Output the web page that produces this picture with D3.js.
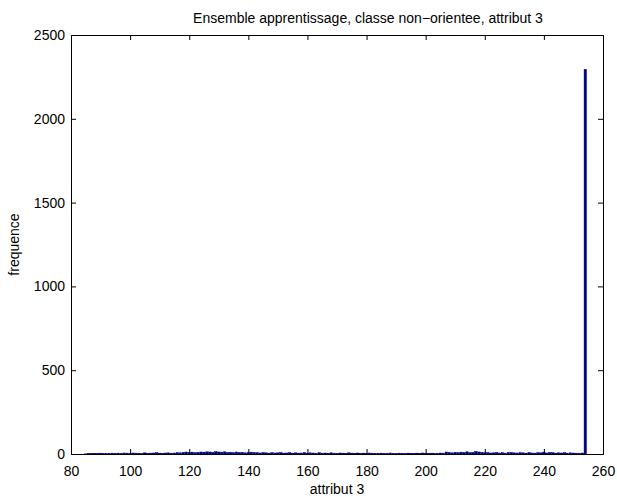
<!DOCTYPE html>
<html>
<head>
<meta charset="utf-8">
<script src="https://cdn.jsdelivr.net/npm/d3@7"></script>
<style>
  html, body { margin: 0; padding: 0; background: #fff; }
  svg { display: block; }
  text { font-family: "Liberation Sans", Arial, Helvetica, sans-serif; fill: #000; }
</style>
</head>
<body>
<svg id="chart" width="617" height="497"></svg>
<script>
// ---- data ----
const title = "Ensemble apprentissage, classe non\u2212orientee, attribut 3";
const xLabel = "attribut 3";
const yLabel = "frequence";
const xTicks = [80, 100, 120, 140, 160, 180, 200, 220, 240, 260];
const yTicks = [0, 500, 1000, 1500, 2000, 2500];
const firstBin = 85;
const frequencies = [
  1, 2, 3, 4, 3, 5, 4, 3, 4, 5,      // 85-94
  4, 5, 3, 6, 5, 4, 6, 5, 4, 3,      // 95-104
  7, 4, 5, 6, 8, 5, 4, 6, 7, 5,      // 105-114
  6, 8, 7, 10, 12, 9, 11, 8, 10, 12, // 115-124
  11, 13, 12, 10, 14, 12, 11, 13, 9, 10, // 125-134
  8, 12, 9, 10, 7, 8, 11, 9, 8, 6,   // 135-144
  9, 7, 5, 8, 6, 7, 9, 5, 6, 8,      // 145-154
  4, 7, 5, 6, 9, 5, 7, 6, 4, 8,      // 155-164
  5, 6, 4, 7, 5, 3, 6, 5, 4, 7,      // 165-174
  5, 4, 6, 3, 5, 4, 6, 5, 3, 4,      // 175-184
  5, 3, 4, 6, 4, 3, 5, 4, 3, 5,      // 185-194
  4, 3, 5, 4, 6, 3, 4, 5, 3, 4,      // 195-204
  6, 5, 12, 9, 7, 10, 8, 11, 9, 13,  // 205-214
  8, 10, 16, 12, 9, 7, 8, 6, 7, 9,   // 215-224
  6, 8, 5, 9, 10, 7, 6, 8, 7, 5,     // 225-234
  9, 6, 5, 8, 7, 11, 6, 9, 8, 5,     // 235-244
  7, 6, 8, 5, 7, 6, 5, 4, 6,         // 245-253
  2295                               // 254
];
const bins = frequencies.map((f, i) => ({ x: firstBin + i, y: f }));

// ---- layout ----
const svg = d3.select("#chart");
const mLeft = 71, mRight = 603, mTop = 35, mBottom = 454;
const x = d3.scaleLinear().domain([80, 260]).range([mLeft, mRight]);
const y = d3.scaleLinear().domain([0, 2500]).range([mBottom, mTop]);
const barColor = "#00007f";
const tickLen = 5;

svg.append("rect").attr("x", 0).attr("y", 0).attr("width", 617).attr("height", 497).attr("fill", "#fff");

// bars
const bw = (x(1) - x(0)) * 0.8;
svg.append("g").selectAll("rect").data(bins).join("rect")
  .attr("x", d => x(d.x) - bw / 2)
  .attr("width", bw)
  .attr("y", d => y(d.y))
  .attr("height", d => Math.max(0, y(0) - y(d.y)))
  .attr("fill", barColor)
  .attr("stroke", barColor)
  .attr("stroke-width", 0.5);

// axes (MATLAB-like boxed, inward ticks)
const font = "14px";
const xb = svg.append("g").attr("transform", `translate(0,${mBottom})`)
  .call(d3.axisBottom(x).tickValues(xTicks).tickSize(-tickLen).tickPadding(12).tickFormat(d3.format("d")));
const xt = svg.append("g").attr("transform", `translate(0,${mTop})`)
  .call(d3.axisTop(x).tickValues(xTicks).tickSize(-tickLen).tickFormat(""));
const yl = svg.append("g").attr("transform", `translate(${mLeft},0)`)
  .call(d3.axisLeft(y).tickValues(yTicks).tickSize(-tickLen).tickPadding(6).tickFormat(d3.format("d")));
const yr = svg.append("g").attr("transform", `translate(${mRight},0)`)
  .call(d3.axisRight(y).tickValues(yTicks).tickSize(-tickLen).tickFormat(""));
[xb, xt, yl, yr].forEach(g => {
  g.selectAll(".domain").attr("stroke", "#000").attr("stroke-width", 1);
  g.selectAll(".tick line").attr("stroke", "#000");
  g.selectAll("text").style("font-size", font).style("font-family", '"Liberation Sans", Arial, sans-serif').attr("fill", "#000");
});
xb.selectAll(".tick").filter(d => d === 80 || d === 260).select("line").remove();
xt.selectAll(".tick").filter(d => d === 80 || d === 260).select("line").remove();
yl.selectAll(".tick").filter(d => d === 0 || d === 2500).select("line").remove();
yr.selectAll(".tick").filter(d => d === 0 || d === 2500).select("line").remove();

// labels
svg.append("text").attr("x", 368).attr("y", 23)
  .attr("text-anchor", "middle").style("font-size", font).text(title);
svg.append("text").attr("x", (mLeft + mRight) / 2).attr("y", 494)
  .attr("text-anchor", "middle").style("font-size", font).text(xLabel);
svg.append("text").attr("transform", `translate(19,${(mTop + mBottom) / 2}) rotate(-90)`)
  .attr("text-anchor", "middle").style("font-size", font).text(yLabel);
</script>
</body>
</html>
